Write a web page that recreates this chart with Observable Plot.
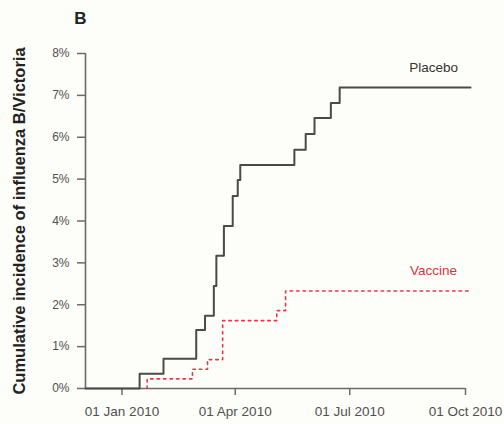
<!DOCTYPE html>
<html>
<head>
<meta charset="utf-8">
<script src="https://cdn.jsdelivr.net/npm/d3@7"></script>
<script src="https://cdn.jsdelivr.net/npm/@observablehq/plot@0.6"></script>
<style>
  body { margin: 0; background: #fdfdf9; }
  #chart svg { display: block; }
</style>
</head>
<body>
<div id="chart"></div>
<script>
// ---- data ----
const panelLetter = "B";
const yAxisTitle = "Cumulative incidence of influenza B/Victoria";
const seriesNames = ["Placebo", "Vaccine"];

const placeboDates = ["2009-12-03", "2010-01-15", "2010-02-03", "2010-03-01", "2010-03-08",
  "2010-03-15", "2010-03-17", "2010-03-23", "2010-03-30", "2010-04-03", "2010-04-05",
  "2010-05-18", "2010-05-27", "2010-06-03", "2010-06-16", "2010-06-23", "2010-10-05"];
const placeboPct = [0, 0.35, 0.71, 1.40, 1.74, 2.45, 3.17, 3.88, 4.60, 4.98, 5.34,
  5.70, 6.08, 6.46, 6.82, 7.19, 7.19];

const vaccineDates = ["2010-01-21", "2010-01-21", "2010-02-26", "2010-03-10", "2010-03-22",
  "2010-05-04", "2010-05-11", "2010-10-05"];
const vaccinePct = [0, 0.23, 0.46, 0.69, 1.62, 1.86, 2.33, 2.33];

const yTicks = [0, 1, 2, 3, 4, 5, 6, 7, 8];
const yTickLabels = ["0%", "1%", "2%", "3%", "4%", "5%", "6%", "7%", "8%"];
const xTicks = ["2010-01-01", "2010-04-01", "2010-07-01", "2010-10-01"];
const xTickLabels = ["01 Jan 2010", "01 Apr 2010", "01 Jul 2010", "01 Oct 2010"];
const xDomain = ["2009-12-03", "2010-10-01"];
const yDomain = [0, 8];

// ---- build tables ----
const parse = s => new Date(s + "T00:00:00Z");
const placebo = placeboDates.map((d, i) => ({date: parse(d), value: placeboPct[i]}));
const vaccine = vaccineDates.map((d, i) => ({date: parse(d), value: vaccinePct[i]}));
const ends = [
  {name: seriesNames[0], ...placebo[placebo.length - 1]},
  {name: seriesNames[1], ...vaccine[vaccine.length - 1]}
];
const xStart = parse(xDomain[0]);
const xEnd = parse(xDomain[1]);
const axisColor = "#6a6a6a";

const chart = Plot.plot({
  width: 504,
  height: 424,
  marginLeft: 85,
  marginRight: 39,
  marginTop: 53,
  marginBottom: 36,
  style: {background: "transparent", fontFamily: "'Liberation Sans', Arial, sans-serif", color: "#333"},
  x: {type: "utc", domain: [xStart, xEnd]},
  y: {domain: yDomain},
  marks: [
    Plot.axisY(yTicks, {
      tickSize: 8, tickPadding: 8, fontSize: 12, color: "#505050", stroke: axisColor, strokeWidth: 1.5,
      tickFormat: (d, i) => yTickLabels[i], label: null
    }),
    Plot.axisX(xTicks.map(parse), {
      tickSize: 7, tickPadding: 11, fontSize: 13.5, color: "#505050", stroke: axisColor, strokeWidth: 1.5,
      tickFormat: (d, i) => xTickLabels[i], label: null
    }),
    Plot.ruleX([xStart], {y1: yDomain[0], y2: yDomain[1], stroke: axisColor, strokeWidth: 1.6}),
    Plot.ruleY([0], {x1: xStart, x2: xEnd, stroke: axisColor, strokeWidth: 1.6}),
    Plot.line(vaccine, {x: "date", y: "value", curve: "step-after", stroke: "#e23a4a",
      strokeWidth: 1.6, strokeDasharray: "2.5,4"}),
    Plot.line(placebo, {x: "date", y: "value", curve: "step-after", stroke: "#4a4a4a", strokeWidth: 2}),
    Plot.text(ends, {x: "date", y: "value", text: "name", dx: -37, dy: -20, fontSize: 13.5,
      fill: (d, i) => i === 0 ? "#333" : "#d9343f"}),
    Plot.text([panelLetter], {text: d => d, frameAnchor: "top-left", dx: -5, dy: -35,
      fontSize: 17, fontWeight: "bold", fill: "#222", textAnchor: "middle", lineAnchor: "middle"}),
    Plot.text([yAxisTitle], {text: d => d, frameAnchor: "left", rotate: -90, dx: -66,
      fontSize: 16.5, fontWeight: "bold", fill: "#222", textAnchor: "middle", lineAnchor: "middle"})
  ]
});
document.getElementById("chart").appendChild(chart);
</script>
</body>
</html>
